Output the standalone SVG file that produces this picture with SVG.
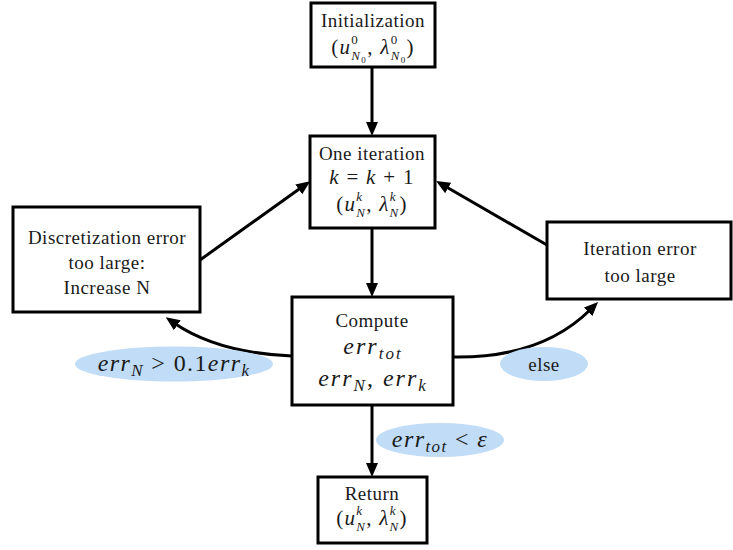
<svg xmlns="http://www.w3.org/2000/svg" width="733" height="550" viewBox="0 0 733 550">
<style>
.box{fill:#fff;stroke:#000;stroke-width:3}
.lbl{fill:#c0dcf6;stroke:none}
.t{font-family:"Liberation Serif","Times New Roman",serif;font-size:19px;letter-spacing:0.5px;fill:#1a1a1a;text-anchor:middle}
.m{font-family:"Liberation Serif","Times New Roman",serif;font-size:21px;letter-spacing:1.3px;fill:#1a1a1a;text-anchor:middle}
.M{font-family:"Liberation Serif","Times New Roman",serif;font-size:24px;letter-spacing:1.4px;fill:#1a1a1a;text-anchor:middle}
.W{letter-spacing:2px}
.i{font-style:italic}
.sp{font-size:13px}
.ss{font-size:9px}
.s2{font-size:17px}
.c{fill:none;stroke:#000;stroke-width:3}
</style>
<defs>
<marker id="ah" markerUnits="userSpaceOnUse" markerWidth="15" markerHeight="13" refX="4" refY="6" orient="auto">
<path d="M0,0 L14,6 L0,12 z" fill="#000"/>
</marker>
</defs>

<g id="connectors">
<path class="c" d="M372,67 L372,126" marker-end="url(#ah)"/>
<path class="c" d="M372,228 L372,287" marker-end="url(#ah)"/>
<path class="c" d="M372,405 L372,467" marker-end="url(#ah)"/>
<path class="c" d="M200,260 L302,187" marker-end="url(#ah)"/>
<path class="c" d="M547,245 L444.7,186" marker-end="url(#ah)"/>
<path class="c" d="M292,356 Q218,353 174,323" marker-end="url(#ah)"/>
<path class="c" d="M453,357 C510,358 556,344 591,309" marker-end="url(#ah)"/>
</g>

<g id="label-errN">
<ellipse class="lbl" cx="174" cy="364" rx="99" ry="17.5"/>
<text class="M" x="174" y="371"><tspan class="i">err</tspan><tspan class="i s2" dy="5">N</tspan><tspan dy="-5"> &gt; 0.1</tspan><tspan class="i">err</tspan><tspan class="i s2" dy="5">k</tspan></text>
</g>
<g id="label-else">
<ellipse class="lbl" cx="544" cy="364" rx="44" ry="17"/>
<text class="t" x="544" y="371">else</text>
</g>
<g id="label-errtot">
<ellipse class="lbl" cx="440" cy="440" rx="64" ry="17"/>
<text class="M" x="440" y="447"><tspan class="i">err</tspan><tspan class="i s2" dy="5">tot</tspan><tspan dy="-5"> &lt; </tspan><tspan class="i">ε</tspan></text>
</g>

<g id="init">
<rect class="box" x="311" y="3" width="124" height="64"/>
<text class="t" x="373" y="27">Initialization</text>
<text class="m" x="373" y="54">(<tspan class="i">u</tspan><tspan class="sp" dy="-10">0</tspan><tspan class="sp i" dx="-7.8" dy="16">N</tspan><tspan class="ss" dy="3">0</tspan><tspan dy="-9">, </tspan><tspan class="i">λ</tspan><tspan class="sp" dy="-10">0</tspan><tspan class="sp i" dx="-7.8" dy="16">N</tspan><tspan class="ss" dy="3">0</tspan><tspan dy="-9">)</tspan></text>
</g>

<g id="iter">
<rect class="box" x="310" y="136" width="125" height="92"/>
<text class="t" x="372" y="160">One iteration</text>
<text class="m" x="372" y="184"><tspan class="i">k</tspan> = <tspan class="i">k</tspan> + 1</text>
<text class="m" x="372" y="211">(<tspan class="i">u</tspan><tspan class="sp i" dy="-10">k</tspan><tspan class="sp i" dx="-7.2" dy="16">N</tspan><tspan dy="-6">, </tspan><tspan class="i">λ</tspan><tspan class="sp i" dy="-10">k</tspan><tspan class="sp i" dx="-7.2" dy="16">N</tspan><tspan dy="-6">)</tspan></text>
</g>

<g id="compute">
<rect class="box" x="292" y="297" width="161" height="108"/>
<text class="t" x="372" y="327">Compute</text>
<text class="M W" x="373" y="354"><tspan class="i">err</tspan><tspan class="i s2" dy="5">tot</tspan></text>
<text class="M W" x="373" y="386"><tspan class="i">err</tspan><tspan class="i s2" dy="5">N</tspan><tspan dy="-5">, </tspan><tspan class="i">err</tspan><tspan class="i s2" dy="5">k</tspan></text>
</g>

<g id="return">
<rect class="box" x="318" y="477" width="109" height="66"/>
<text class="t" x="372" y="500">Return</text>
<text class="m" x="372" y="525">(<tspan class="i">u</tspan><tspan class="sp i" dy="-10">k</tspan><tspan class="sp i" dx="-7.2" dy="16">N</tspan><tspan dy="-6">, </tspan><tspan class="i">λ</tspan><tspan class="sp i" dy="-10">k</tspan><tspan class="sp i" dx="-7.2" dy="16">N</tspan><tspan dy="-6">)</tspan></text>
</g>

<g id="disc">
<rect class="box" x="13" y="207" width="187" height="105"/>
<text class="t" x="107" y="244">Discretization error</text>
<text class="t" x="107" y="269">too large:</text>
<text class="t" x="107" y="294">Increase N</text>
</g>

<g id="iterr">
<rect class="box" x="547" y="222" width="184" height="77"/>
<text class="t" x="640" y="255">Iteration error</text>
<text class="t" x="640" y="282">too large</text>
</g>
</svg>
